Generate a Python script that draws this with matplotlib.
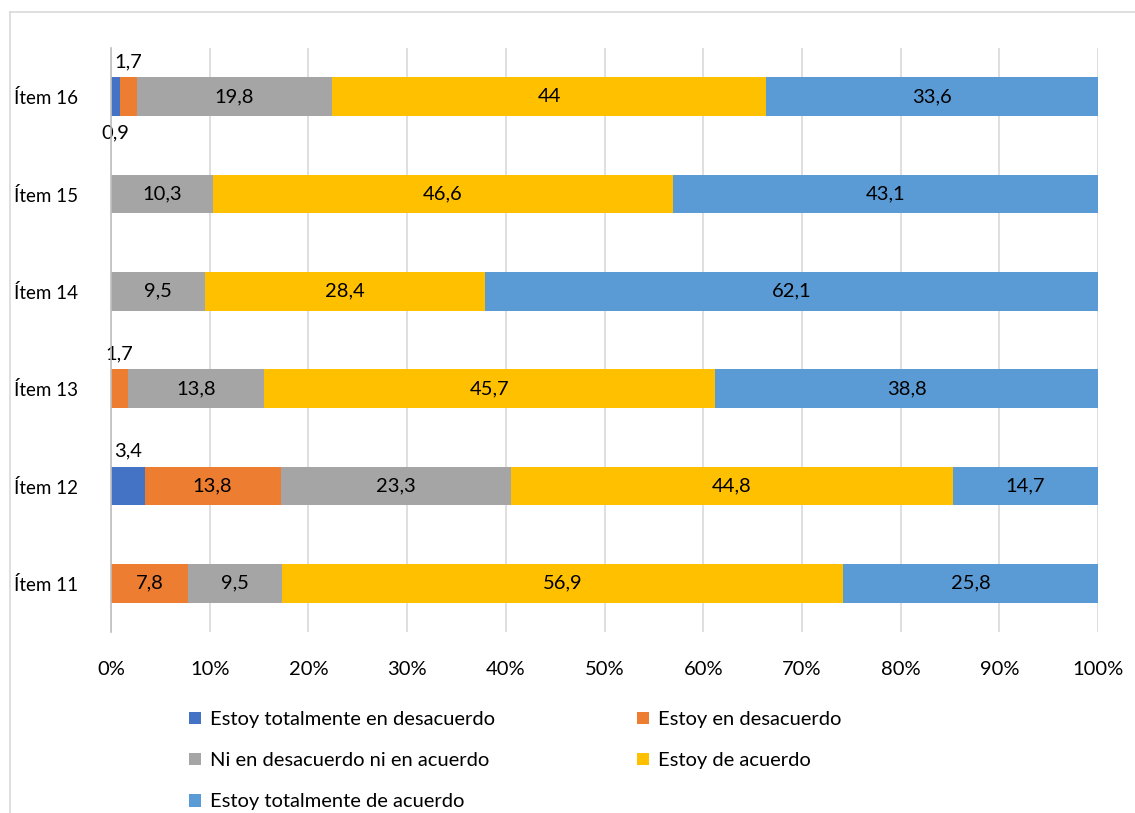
import matplotlib
matplotlib.use("Agg")
import matplotlib.pyplot as plt
from matplotlib.lines import Line2D
from matplotlib.patches import Patch
import numpy as np

plt.rcParams['font.family'] = ['Lato', 'DejaVu Sans']

items = ["Ítem 11", "Ítem 12", "Ítem 13", "Ítem 14", "Ítem 15", "Ítem 16"]
series_names = [
    "Estoy totalmente en desacuerdo",
    "Estoy en desacuerdo",
    "Ni en desacuerdo ni en acuerdo",
    "Estoy de acuerdo",
    "Estoy totalmente de acuerdo",
]
totalmente_desacuerdo = [0.0, 3.4, 0.0, 0.0, 0.0, 0.9]
en_desacuerdo = [7.8, 13.8, 1.7, 0.0, 0.0, 1.7]
ni_ni = [9.5, 23.3, 13.8, 9.5, 10.3, 19.8]
de_acuerdo = [56.9, 44.8, 45.7, 28.4, 46.6, 44.0]
totalmente_acuerdo = [25.8, 14.7, 38.8, 62.1, 43.1, 33.6]
colors = ["#4472C4", "#ED7D31", "#A5A5A5", "#FFC000", "#5B9BD5"]
xticks = [0, 10, 20, 30, 40, 50, 60, 70, 80, 90, 100]

series = [totalmente_desacuerdo, en_desacuerdo, ni_ni, de_acuerdo, totalmente_acuerdo]

W, H = 1135, 813
fig = plt.figure(figsize=(W / 100, H / 100), dpi=100)
ax = fig.add_axes([111 / W, 1 - 632 / H, (1098 - 111) / W, (632 - 48) / H])

y = np.arange(len(items))
left = np.zeros(len(items))
fs = 14.5


def fmt(v):
    return (f"{v:.1f}".rstrip("0").rstrip(".")).replace(".", ",")


for vals, name, col in zip(series, series_names, colors):
    vals = np.array(vals)
    ax.barh(y, vals, left=left, height=0.4, color=col, label=name, zorder=3)
    for i, v in enumerate(vals):
        if v <= 0:
            continue
        cx = left[i] + v / 2
        if v < 5:
            if name == series_names[0] and items[i] == "Ítem 16":
                ax.text(cx, y[i] - 0.37, fmt(v), ha="center", va="center",
                        fontsize=fs, color="#000000")
            else:
                ax.text(cx, y[i] + 0.36, fmt(v), ha="center", va="center",
                        fontsize=fs, color="#000000")
        else:
            ax.text(cx, y[i], fmt(v), ha="center", va="center",
                    fontsize=fs, color="#000000", zorder=4)
    left += vals

ax.set_xlim(0, 100)
ax.set_ylim(-0.5, len(items) - 0.5)
ax.set_yticks(y)
ax.set_yticklabels(items, fontsize=13.5)
ax.set_xticks(xticks)
ax.set_xticklabels([f"{t}%" for t in xticks], fontsize=fs)
ax.tick_params(axis="y", length=0, pad=24)
ax.tick_params(axis="x", length=0, pad=21)
ax.grid(axis="x", color="#d9d9d9", linewidth=1.2, zorder=0)
for s in ["top", "right", "bottom"]:
    ax.spines[s].set_visible(False)
ax.spines["left"].set_color("#bfbfbf")
ax.spines["left"].set_linewidth(1.2)
ax.spines["left"].set_zorder(5)

# legend: two columns built as separate legends
handles = [Patch(facecolor=c, edgecolor="none") for c in colors]
common = dict(frameon=False, fontsize=fs, handlelength=0.6, handleheight=0.6,
              handletextpad=0.45, labelspacing=1.2, borderpad=0, borderaxespad=0)
leg1 = fig.legend([handles[0], handles[2], handles[4]],
                  [series_names[0], series_names[2], series_names[4]],
                  loc="upper left", bbox_to_anchor=(189 / W, 1 - 711 / H), **common)
leg2 = fig.legend([handles[1], handles[3]],
                  [series_names[1], series_names[3]],
                  loc="upper left", bbox_to_anchor=(637 / W, 1 - 711 / H), **common)

# outer chart frame
fig.add_artist(Line2D([10 / W, 1.0], [1 - 12 / H, 1 - 12 / H],
                      transform=fig.transFigure, color="#d9d9d9", linewidth=1.2))
fig.add_artist(Line2D([10 / W, 10 / W], [0.0, 1 - 12 / H],
                      transform=fig.transFigure, color="#d9d9d9", linewidth=1.2))

fig.savefig("out.png", dpi=100, facecolor="white")
